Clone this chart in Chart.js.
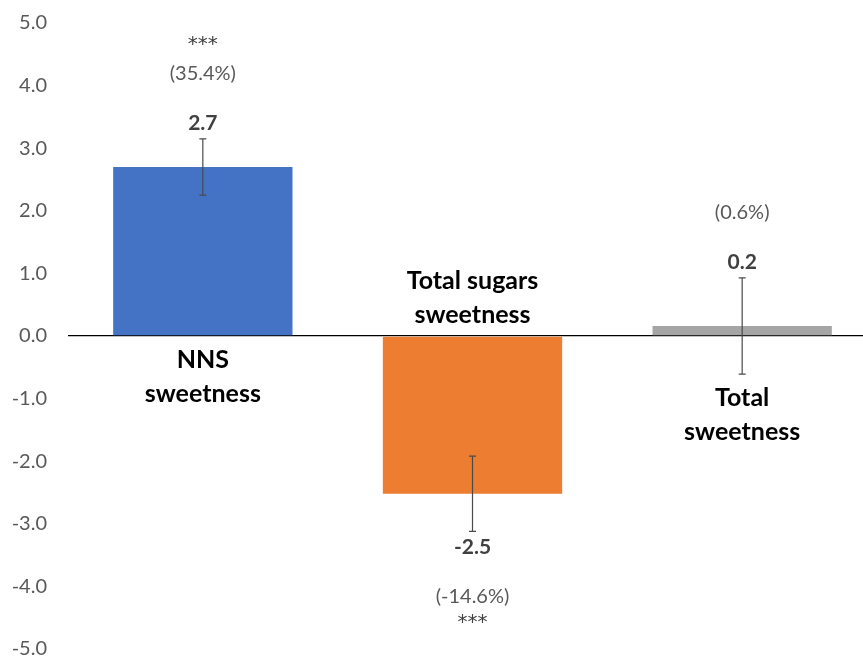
<!DOCTYPE html>
<html>
<head>
<meta charset="utf-8">
<script src="https://cdn.jsdelivr.net/npm/chart.js@4.4.1/dist/chart.umd.min.js"></script>
<style>
  html, body { margin: 0; padding: 0; background: #fff; overflow: hidden; }
  #wrap { width: 877px; height: 657px; }
</style>
</head>
<body>
<div id="wrap"><canvas id="c" width="877" height="657"></canvas></div>
<script>
// Change in sweetness by source
const categories = ['NNS sweetness', 'Total sugars sweetness', 'Total sweetness'];
const categoryLines = [['NNS', 'sweetness'], ['Total sugars', 'sweetness'], ['Total', 'sweetness']];
const changes = [2.7, -2.52, 0.16];
const errors = [0.45, 0.6, 0.77];
const percentChanges = ['(35.4%)', '(-14.6%)', '(0.6%)'];
const significance = ['***', '***', ''];
const barColors = ['#4472C4', '#ED7D31', '#A5A5A5'];
const yTicks = [-5, -4, -3, -2, -1, 0, 1, 2, 3, 4, 5];

const FONT = 'Lato, "Open Sans", sans-serif';

const annotate = {
  id: 'annotate',
  afterDatasetsDraw(chart) {
    const ctx = chart.ctx;
    const y = chart.scales.y;
    const meta = chart.getDatasetMeta(0);
    const zero = y.getPixelForValue(0);
    ctx.save();
    ctx.textAlign = 'center';
    ctx.textBaseline = 'middle';
    meta.data.forEach((bar, i) => {
      const x = bar.x;
      const v = changes[i];
      const hi = y.getPixelForValue(v + errors[i]);
      const lo = y.getPixelForValue(v - errors[i]);
      // error bar
      ctx.strokeStyle = '#4a4a4a';
      ctx.lineWidth = 1.2;
      ctx.beginPath();
      ctx.moveTo(x, hi); ctx.lineTo(x, lo);
      ctx.moveTo(x - 3.5, hi); ctx.lineTo(x + 3.5, hi);
      ctx.moveTo(x - 3.5, lo); ctx.lineTo(x + 3.5, lo);
      ctx.stroke();

      // value, percentage and significance
      const dir = v >= 0 ? -1 : 1;
      const edge = v >= 0 ? hi : lo;
      ctx.fillStyle = '#404040';
      ctx.font = 'bold 21px ' + FONT;
      ctx.fillText(v.toFixed(1), x, edge + dir * 16);
      ctx.fillStyle = '#595959';
      ctx.font = '20px ' + FONT;
      ctx.fillText(percentChanges[i], x, edge + dir * 65);
      if (significance[i]) {
        ctx.font = '20px "DejaVu Sans", sans-serif';
        ctx.fillStyle = '#404040';
        ctx.fillText(significance[i], x, edge + dir * (v >= 0 ? 94 : 91));
      }

      // category name on the opposite side of the zero line
      ctx.fillStyle = '#000';
      ctx.font = 'bold 25px ' + FONT;
      const lines = categoryLines[i];
      if (v >= 0) {
        const start = Math.max(zero, lo) + 24;
        lines.forEach((t, k) => ctx.fillText(t, x, start + k * 34));
      } else {
        const end = Math.min(zero, hi) - 21;
        lines.forEach((t, k) => ctx.fillText(t, x, end - (lines.length - 1 - k) * 34));
      }
    });
    ctx.restore();
  }
};

new Chart(document.getElementById('c'), {
  type: 'bar',
  data: {
    labels: categories,
    datasets: [{
      data: changes,
      backgroundColor: barColors,
      borderWidth: 0,
      barPercentage: 0.665,
      categoryPercentage: 1
    }]
  },
  options: {
    responsive: false,
    animation: false,
    devicePixelRatio: 1,
    layout: { padding: { top: 23, bottom: 8, left: 0, right: 0 } },
    plugins: { legend: { display: false }, tooltip: { enabled: false } },
    scales: {
      x: { display: false },
      y: {
        min: -5,
        max: 5,
        afterFit(scale) {
          scale.width = 68;
          scale.paddingTop = 0;
          scale.paddingBottom = 0;
        },
        afterBuildTicks(scale) { scale.ticks = yTicks.map(v => ({ value: v })); },
        border: { display: false },
        grid: {
          drawTicks: false,
          color: c => (c.tick && c.tick.value === 0 ? '#000' : 'rgba(0,0,0,0)'),
          lineWidth: 1.3
        },
        ticks: {
          padding: 21,
          color: '#595959',
          font: { family: FONT, size: 20 },
          callback: v => v.toFixed(1)
        }
      }
    }
  },
  plugins: [annotate]
});
</script>
</body>
</html>
